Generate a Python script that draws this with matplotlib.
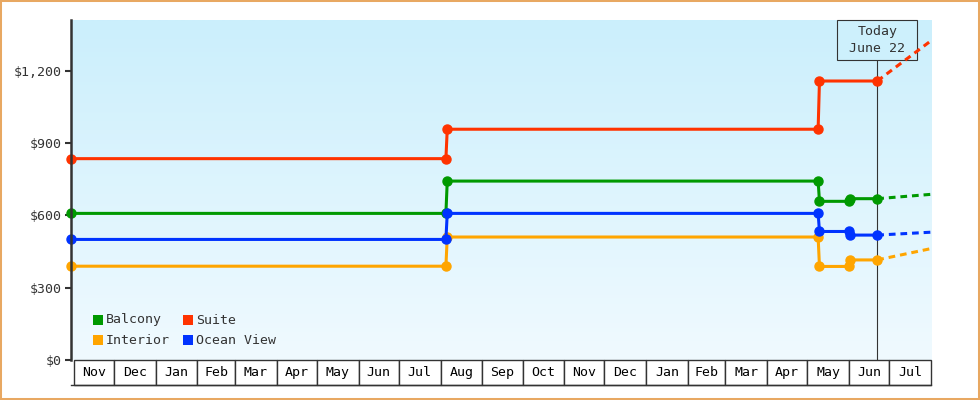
import numpy as np
import pandas as pd
import matplotlib
matplotlib.use("Agg")
import matplotlib.pyplot as plt
import matplotlib.dates as mdates
import matplotlib.transforms as mtransforms
from matplotlib.patches import Rectangle

# price history per cabin type (step changes drawn as two close points)
balcony_dates = ["2016-10-30", "2017-08-05", "2017-08-06", "2018-05-09", "2018-05-10",
                 "2018-06-01", "2018-06-02", "2018-06-22"]
balcony_prices = [608, 608, 742, 742, 658, 658, 669, 669]

suite_dates = ["2016-10-30", "2017-08-05", "2017-08-06", "2018-05-09", "2018-05-10", "2018-06-22"]
suite_prices = [835, 835, 957, 957, 1157, 1157]

ocean_dates = ["2016-10-30", "2017-08-05", "2017-08-06", "2018-05-09", "2018-05-10",
               "2018-06-01", "2018-06-02", "2018-06-22"]
ocean_prices = [500, 500, 608, 608, 533, 533, 518, 518]

interior_dates = ["2016-10-30", "2017-08-05", "2017-08-06", "2018-05-09", "2018-05-10",
                  "2018-06-01", "2018-06-02", "2018-06-22"]
interior_prices = [389, 389, 510, 510, 388, 388, 415, 415]

# projections after today
proj_dates = ["2018-06-22", "2018-08-01"]
balcony_proj = [669, 687]
suite_proj = [1157, 1324]
ocean_proj = [518, 530]
interior_proj = [415, 462]

today = "2018-06-22"
today_label = "Today\nJune 22"

yticks = [0, 300, 600, 900, 1200]
ytick_labels = ["$0", "$300", "$600", "$900", "$1,200"]

GREEN = "#009900"
RED = "#ff3300"
ORANGE = "#ffa500"
BLUE = "#0033ff"
DARK = "#333333"

series = [
    ("Balcony", balcony_dates, balcony_prices, balcony_proj, GREEN),
    ("Suite", suite_dates, suite_prices, suite_proj, RED),
    ("Interior", interior_dates, interior_prices, interior_proj, ORANGE),
    ("Ocean View", ocean_dates, ocean_prices, ocean_proj, BLUE),
]

plt.rcParams['font.family'] = ['DejaVu Sans Mono']
FS = 9.5

fig = plt.figure(figsize=(9.8, 4), dpi=100)
fig.patch.set_facecolor("white")
ax = fig.add_axes([71/980, 40/400, 860/980, 340/400])

x0 = pd.Timestamp("2016-10-30")
x1 = pd.Timestamp("2018-08-01")
ax.set_xlim(x0, x1)
ax.set_ylim(0, 1410)

# gradient background
grad = np.linspace(0, 1, 256).reshape(-1, 1)
top = np.array([0xcb, 0xef, 0xfc]) / 255
bot = np.array([0xf0, 0xfa, 0xff]) / 255
img = bot + (top - bot) * grad
ax.imshow(img[..., None, :].reshape(256, 1, 3), extent=[0, 1, 0, 1], origin="lower",
          transform=ax.transAxes, aspect="auto", zorder=0)

# today line and box
trans = mtransforms.blended_transform_factory(ax.transData, ax.transAxes)
td = mdates.date2num(pd.Timestamp(today))
box_bottom = (360 - 60) / 340
ax.plot([td, td], [0, box_bottom], transform=trans, color=DARK, lw=0.8, zorder=1)
half = 40 / (860 / mdates.date2num(x1) * 1) if False else 40 * (mdates.date2num(x1) - mdates.date2num(x0)) / 860
ax.add_patch(Rectangle((td - half, box_bottom), 2 * half, 1 - box_bottom, transform=trans,
                       facecolor="#cdf0fc", edgecolor=DARK, lw=0.8, zorder=2, clip_on=False))
ax.text(td, (1 + box_bottom) / 2, today_label, transform=trans, ha="center", va="center",
        fontsize=FS, color=DARK, linespacing=1.35, zorder=3)

for name, d, p, pr, c in series:
    ax.plot(pd.to_datetime(d), p, color=c, lw=2.2, marker="o", ms=6.5, zorder=5, clip_on=False)
    ax.plot(pd.to_datetime(proj_dates), pr, color=c, lw=2.2, ls=(0, (2.2, 1.6)), zorder=4)

# axes styling
for s in ["top", "right", "bottom"]:
    ax.spines[s].set_visible(False)
ax.spines["left"].set_color(DARK)
ax.spines["left"].set_linewidth(1.8)
ax.spines["left"].set_zorder(6)
ax.set_yticks(yticks)
ax.set_yticklabels(ytick_labels)
ax.tick_params(axis="y", length=4.5, width=1.5, color=DARK, labelcolor=DARK,
               labelsize=FS, pad=2)
ax.set_xticks([])

# month boxes under the plot
months = pd.date_range("2016-11-01", "2018-08-01", freq="MS")
bh = 25 / 340
for a, b in zip(months[:-1], months[1:]):
    na, nb = mdates.date2num(a), mdates.date2num(b)
    ax.add_patch(Rectangle((na, -bh), nb - na, bh, transform=trans, facecolor="white",
                           edgecolor=DARK, lw=1.0, clip_on=False, zorder=1))
    ax.text((na + nb) / 2, -bh / 2, a.strftime("%b"), transform=trans, ha="center",
            va="center", fontsize=FS, color="black")
ax.plot([mdates.date2num(x0), mdates.date2num(x1)], [-bh, -bh], transform=trans,
        color=DARK, lw=1.0, clip_on=False)

# legend
leg_items = [("Balcony", GREEN, 93, 320), ("Suite", RED, 183, 320),
             ("Interior", ORANGE, 93, 340), ("Ocean View", BLUE, 183, 340)]
for name, c, px, py in leg_items:
    ax.add_patch(Rectangle(((px - 71) / 860, (360 - py - 5) / 340), 10 / 860, 10 / 340,
                           transform=ax.transAxes, facecolor=c, edgecolor="none", zorder=6))
    ax.text((px + 13 - 71) / 860, (360 - py) / 340, name, transform=ax.transAxes,
            ha="left", va="center", fontsize=FS, color=DARK, zorder=6)

# outer frame
fig.patches.append(Rectangle((0, 0), 1, 1, transform=fig.transFigure, fill=False,
                             edgecolor="#e8a862", lw=2.9))

fig.savefig("out.png", dpi=100)
